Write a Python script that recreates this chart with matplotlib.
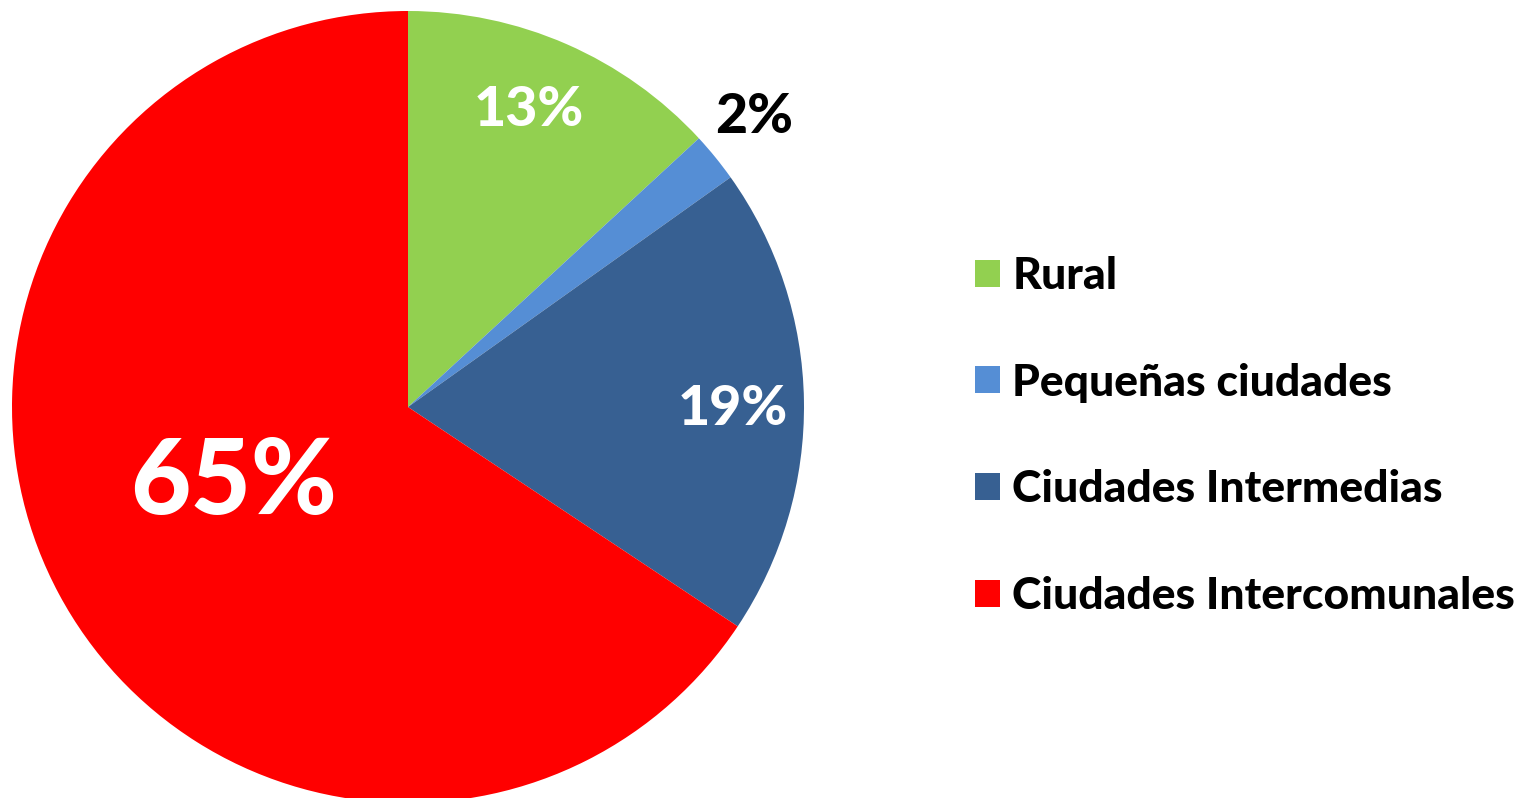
import matplotlib
matplotlib.use("Agg")
import matplotlib.pyplot as plt
import numpy as np

categories = ["Rural", "Pequeñas ciudades", "Ciudades Intermedias", "Ciudades Intercomunales"]
values = [13, 2, 19, 65]
colors = ["#92D050", "#558ED5", "#376092", "#FF0000"]
label_colors = ["white", "black", "white", "white"]

plt.rcParams['font.family'] = ['Lato', 'DejaVu Sans']

W, H = 1523, 798
fig = plt.figure(figsize=(W / 100, H / 100), dpi=100)
cx, cy, r = 408, 407, 396
ax = fig.add_axes([(cx - r) / W, (H - cy - r) / H, 2 * r / W, 2 * r / H])

wedges, _ = ax.pie(values, colors=colors, startangle=90, counterclock=False,
                   radius=1, center=(0, 0), frame=False,
                   wedgeprops=dict(linewidth=0))
ax.set_xlim(-1, 1)
ax.set_ylim(-1, 1)
ax.set_aspect('equal')
ax.axis('off')

dists = [0.81, 1.14, 0.82, 0.48]
angle_off = [1.5, 0.8, -1.2, -4.6]
sizes = [40, 40, 40, 75]
for w, v, d, off, s, c in zip(wedges, values, dists, angle_off, sizes, label_colors):
    th = np.deg2rad((w.theta1 + w.theta2) / 2 + off)
    ax.text(d * np.cos(th), d * np.sin(th), f"{v}%", ha='center', va='center',
            fontsize=s, fontweight='black', color=c)

leg = fig.legend(wedges, categories, loc='center left',
                 bbox_to_anchor=(975 / W, 1 - 436 / H), frameon=False,
                 prop=dict(weight='black', size=32),
                 handlelength=0.56, handleheight=0.56, handletextpad=0.28,
                 labelspacing=1.5, borderpad=0, borderaxespad=0)

fig.savefig("out.png", dpi=100)
